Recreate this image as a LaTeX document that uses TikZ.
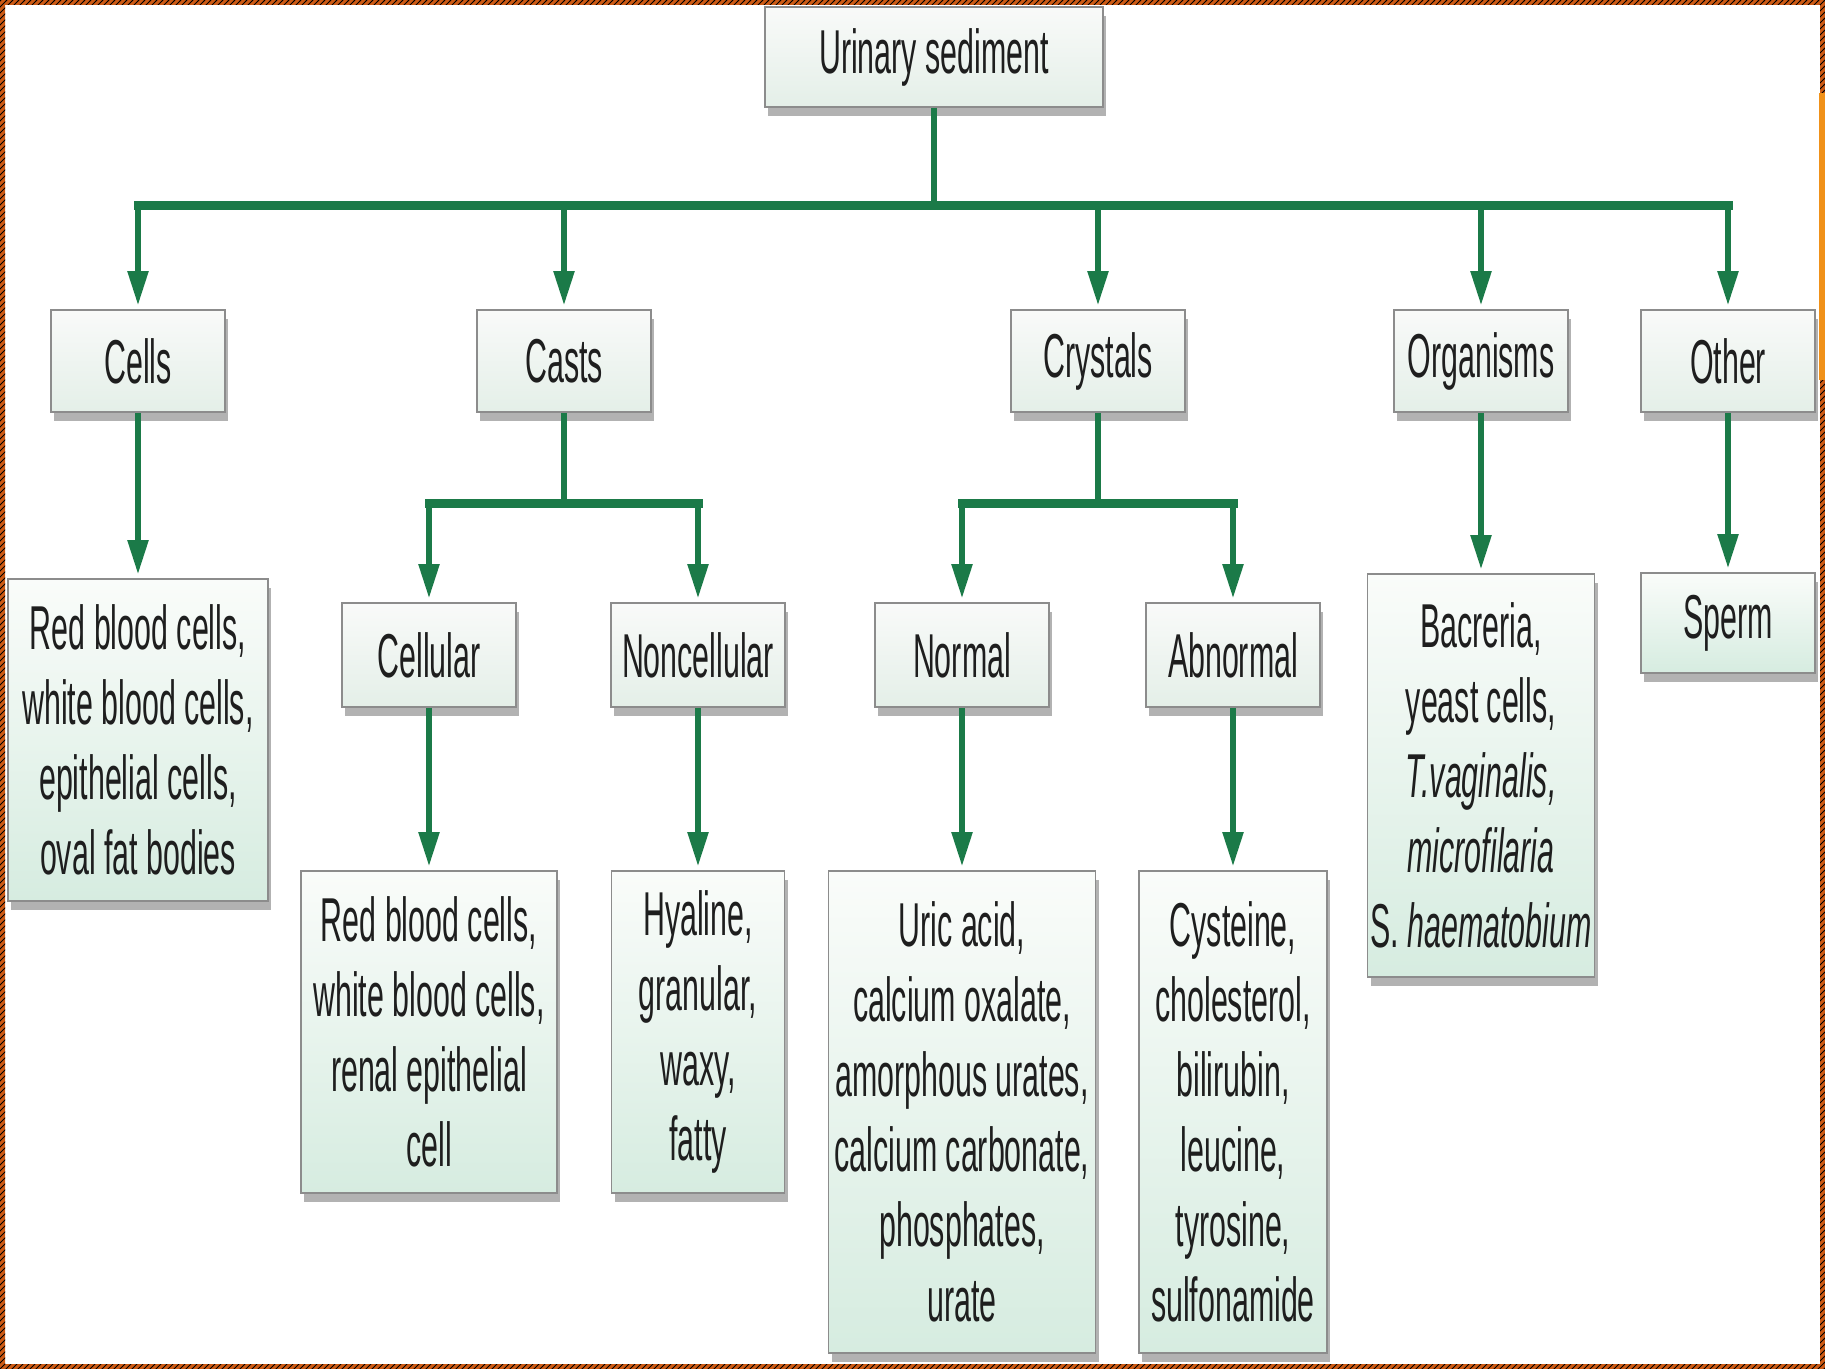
\documentclass[tikz,border=0pt]{standalone}
\usepackage{fontspec}
\setmainfont[FakeStretch=0.49]{Liberation Sans}
\usetikzlibrary{arrows.meta,shadows,patterns}
\definecolor{grn}{RGB}{27,122,72}
\definecolor{frameor}{RGB}{205,90,20}
\definecolor{barorange}{RGB}{240,145,25}
\definecolor{bordergray}{RGB}{140,140,140}
\definecolor{lvltop}{RGB}{249,250,249}
\definecolor{lvlbot}{RGB}{228,239,232}
\definecolor{dettop}{RGB}{250,252,250}
\definecolor{detbot}{RGB}{214,236,224}
\definecolor{txt}{RGB}{30,30,30}
\tikzset{
  basebox/.style={draw=bordergray, line width=0.8pt, inner sep=0pt, align=center,
    text=txt, font=\fontsize{31}{37.5}\selectfont,
    drop shadow={shadow xshift=1.5pt, shadow yshift=-4.5pt, fill=gray!60, opacity=1}},
  lvlbox/.style={basebox, top color=lvltop, bottom color=lvlbot},
  detbox/.style={basebox, top color=dettop, bottom color=detbot},
  conn/.style={draw=grn, line width=2.6pt},
  busline/.style={draw=grn, line width=4.5pt, line cap=rect},
  arr/.style={draw=grn, line width=2.6pt, -{Triangle[length=17pt,width=10pt]}, shorten >=2pt}
}
\begin{document}
\begin{tikzpicture}[x=0.5pt,y=-0.5pt]
\useasboundingbox (0,0) rectangle (1825,1369);
\fill[white] (0,0) rectangle (1825,1369);

% top
\node[lvlbox, minimum width=169pt, minimum height=50pt] (us) at (934,57) {Urinary sediment};

% level 1
\node[lvlbox, minimum width=87pt, minimum height=51pt] (cells) at (138,361) {Cells};
\node[lvlbox, minimum width=87pt, minimum height=51pt] (casts) at (564,361) {Casts};
\node[lvlbox, minimum width=87pt, minimum height=51pt] (crystals) at (1098,361) {Crystals};
\node[lvlbox, minimum width=87pt, minimum height=51pt] (organisms) at (1481,361) {Organisms};
\node[lvlbox, minimum width=87pt, minimum height=51pt] (other) at (1728,361) {Other};

% level 2
\node[lvlbox, minimum width=87pt, minimum height=52pt] (cellular) at (429,655) {Cellular};
\node[lvlbox, minimum width=87pt, minimum height=52pt] (noncellular) at (698,655) {Noncellular};
\node[lvlbox, minimum width=87pt, minimum height=52pt] (normal) at (962,655) {Normal};
\node[lvlbox, minimum width=87pt, minimum height=52pt] (abnormal) at (1233,655) {Abnormal};

% detail boxes
\node[detbox, minimum width=130pt, minimum height=161pt] (cellsd) at (138,740)
  {Red blood cells,\\white blood cells,\\epithelial cells,\\oval fat bodies};
\node[detbox, minimum width=128pt, minimum height=161pt] (cellulard) at (429,1032)
  {Red blood cells,\\white blood cells,\\renal epithelial\\cell};
\node[detbox, minimum width=86.5pt, minimum height=161pt] (noncellulard) at (698,1032)
  {Hyaline,\\granular,\\waxy,\\fatty};
\node[detbox, minimum width=133.5pt, minimum height=241pt] (normald) at (962,1112)
  {Uric acid,\\calcium oxalate,\\amorphous urates,\\calcium carbonate,\\phosphates,\\urate};
\node[detbox, minimum width=94pt, minimum height=241pt] (abnormald) at (1233,1112)
  {Cysteine,\\cholesterol,\\bilirubin,\\leucine,\\tyrosine,\\sulfonamide};
\node[detbox, minimum width=113.5pt, minimum height=201.5pt] (organismsd) at (1481,775.5)
  {Bacreria,\\yeast cells,\\\textit{T.vaginalis,}\\\textit{microfilaria}\\S. \textit{haematobium}};
\node[detbox, minimum width=87pt, minimum height=50pt] (sperm) at (1728,623) {Sperm};

% main bus
\coordinate (bus) at (934,206);
\draw[conn] (us.south) -- (bus);
\draw[busline] (cells.north |- bus) -- (other.north |- bus);
\foreach \n in {cells,casts,crystals,organisms,other}
  \draw[arr] (\n.north |- bus) -- (\n.north);

% direct arrows
\draw[arr] (cells.south) -- (cellsd.north);
\draw[arr] (organisms.south) -- (organismsd.north);
\draw[arr] (other.south) -- (sperm.north);

% casts sub-bus
\coordinate (sb1) at (564,503);
\draw[conn] (casts.south) -- (sb1);
\draw[busline] (cellular.north |- sb1) -- (noncellular.north |- sb1);
\draw[arr] (cellular.north |- sb1) -- (cellular.north);
\draw[arr] (noncellular.north |- sb1) -- (noncellular.north);
\draw[arr] (cellular.south) -- (cellulard.north);
\draw[arr] (noncellular.south) -- (noncellulard.north);

% crystals sub-bus
\coordinate (sb2) at (1098,503);
\draw[conn] (crystals.south) -- (sb2);
\draw[busline] (normal.north |- sb2) -- (abnormal.north |- sb2);
\draw[arr] (normal.north |- sb2) -- (normal.north);
\draw[arr] (abnormal.north |- sb2) -- (abnormal.north);
\draw[arr] (normal.south) -- (normald.north);
\draw[arr] (abnormal.south) -- (abnormald.north);

% frame
\fill[frameor, even odd rule] (0,0) rectangle (1825,1369) (5,5) rectangle (1820,1364);
\fill[pattern=north east lines, pattern color=black, even odd rule] (0,0) rectangle (1825,1369) (5,5) rectangle (1820,1364);
\fill[barorange] (1819,93) rectangle (1825,380);
\end{tikzpicture}
\end{document}
